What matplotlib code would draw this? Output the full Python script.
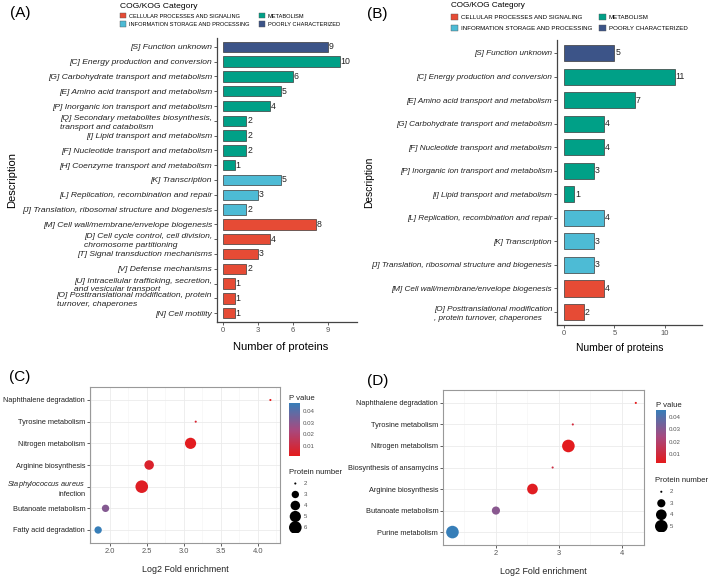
import numpy as np
import matplotlib.pyplot as plt
from matplotlib.colors import LinearSegmentedColormap
from matplotlib.patches import Patch

plt.rcParams['font.family'] = 'Liberation Sans'
plt.rcParams['mathtext.fontset'] = 'custom'
plt.rcParams['mathtext.it'] = 'Liberation Sans:italic'
plt.rcParams['mathtext.rm'] = 'Liberation Sans'

W, H = 709, 576

CAT_NAMES = ["CELLULAR PROCESSES AND SIGNALING", "INFORMATION STORAGE AND PROCESSING",
             "METABOLISM", "POORLY CHARACTERIZED"]
CAT_COLORS = ["#E64B35", "#4DBBD5", "#00A087", "#3C5488"]

# panel A
a_terms = ["[S] Function unknown", "[C] Energy production and conversion",
           "[G] Carbohydrate transport and metabolism", "[E] Amino acid transport and metabolism",
           "[P] Inorganic ion transport and metabolism",
           "[Q] Secondary metabolites biosynthesis,\ntransport and catabolism",
           "[I] Lipid transport and metabolism", "[F] Nucleotide transport and metabolism",
           "[H] Coenzyme transport and metabolism", "[K] Transcription",
           "[L] Replication, recombination and repair",
           "[J] Translation, ribosomal structure and biogenesis",
           "[M] Cell wall/membrane/envelope biogenesis",
           "[D] Cell cycle control, cell division,\nchromosome partitioning",
           "[T] Signal transduction mechanisms", "[V] Defense mechanisms",
           "[U] Intracellular trafficking, secretion,\nand vesicular transport",
           "[O] Posttranslational modification, protein\nturnover, chaperones",
           "[N] Cell motility"]
a_counts = [9, 10, 6, 5, 4, 2, 2, 2, 1, 5, 3, 2, 8, 4, 3, 2, 1, 1, 1]
a_cats = [3, 2, 2, 2, 2, 2, 2, 2, 2, 1, 1, 1, 0, 0, 0, 0, 0, 0, 0]

# panel B
b_terms = ["[S] Function unknown", "[C] Energy production and conversion",
           "[E] Amino acid transport and metabolism", "[G] Carbohydrate transport and metabolism",
           "[F] Nucleotide transport and metabolism", "[P] Inorganic ion transport and metabolism",
           "[I] Lipid transport and metabolism", "[L] Replication, recombination and repair",
           "[K] Transcription", "[J] Translation, ribosomal structure and biogenesis",
           "[M] Cell wall/membrane/envelope biogenesis",
           "[O] Posttranslational modification\n, protein turnover, chaperones"]
b_counts = [5, 11, 7, 4, 4, 3, 1, 4, 3, 3, 4, 2]
b_cats = [3, 2, 2, 2, 2, 2, 2, 1, 1, 1, 0, 0]

# panel C
c_paths = ["Naphthalene degradation", "Tyrosine metabolism", "Nitrogen metabolism",
           "Arginine biosynthesis", "$\\it{Staphylococcus\\ aureus}$ \ninfection",
           "Butanoate metabolism", "Fatty acid degradation"]
c_fold = [4.17, 3.16, 3.09, 2.53, 2.43, 1.94, 1.84]
c_count = [2, 2, 5, 4, 6, 3, 3]
c_pval = [0.0011, 0.006, 0.002, 0.005, 0.003, 0.031, 0.047]

# panel D
d_paths = ["Naphthalene degradation", "Tyrosine metabolism", "Nitrogen metabolism",
           "Biosynthesis of ansamycins", "Arginine biosynthesis", "Butanoate metabolism",
           "Purine metabolism"]
d_fold = [4.22, 3.22, 3.15, 2.90, 2.58, 2.00, 1.31]
d_count = [2, 2, 5, 2, 4, 3, 5]
d_pval = [0.0025, 0.009, 0.003, 0.011, 0.004, 0.030, 0.046]

pcmap = LinearSegmentedColormap.from_list("pv", ["#E41A1C", "#A64A80", "#377EB8"])


def rect(x0, y0, x1, y1):
    # pixel box -> figure fraction
    return [x0 / W, 1 - y1 / H, (x1 - x0) / W, (y1 - y0) / H]


def bar_panel(box, terms, counts, cats, xlim, xticks, lab_fs, ylim_pad, bar_h):
    ax = fig.add_axes(rect(*box))
    y = np.arange(len(terms))
    ax.barh(y, counts, height=bar_h, color=[CAT_COLORS[c] for c in cats],
            edgecolor='#3a3a3a', linewidth=0.5)
    for yi, v in zip(y, counts):
        ax.text(v + 0.08, yi, str(v), va='center', ha='left', fontsize=6.3, color='#222222')
    ax.set_yticks(y, terms, fontstyle='italic', fontsize=lab_fs, color='#222222',
                  multialignment='left', linespacing=1.35)
    ax.set_xticks(xticks, [str(t) for t in xticks], fontsize=5.5, color='#555555')
    ax.set_xlim(*xlim)
    ax.set_ylim(len(terms) - 1 + ylim_pad, -ylim_pad)
    for s in ['top', 'right']:
        ax.spines[s].set_visible(False)
    for s in ['left', 'bottom']:
        ax.spines[s].set_color('#444444')
        ax.spines[s].set_linewidth(0.9)
    ax.tick_params(length=2, width=0.6, color='#444444', pad=1.5)
    return ax


def cog_legend(x, y, fs, tfs, lspace, cspace):
    handles = [Patch(facecolor=c, edgecolor='#555555', linewidth=0.3, label=n)
               for n, c in zip(CAT_NAMES, CAT_COLORS)]
    fig.legend(handles=handles, ncol=2, loc='upper left', bbox_to_anchor=(x / W, 1 - y / H),
               frameon=False, title='COG/KOG Category', fontsize=fs, title_fontsize=tfs,
               alignment='left', borderpad=0, borderaxespad=0, handlelength=1.1,
               handleheight=1.1, handletextpad=0.5, columnspacing=cspace, labelspacing=lspace)


def size_px(v, vmin, vmax):
    return 2.1 * (1 + 5 * np.sqrt((np.asarray(v) - vmin) / (vmax - vmin)))


def dot_panel(box, paths, fold, count, pval, xlim, xticks, xlabels, cbox, lx, ltop, lgap):
    ax = fig.add_axes(rect(*box))
    vmin, vmax = min(count), max(count)
    y = np.arange(len(paths))
    sizes = (size_px(count, vmin, vmax) * 0.72) ** 2
    sc = ax.scatter(fold, y, s=sizes, c=pval, cmap=pcmap, vmin=min(pval), vmax=max(pval),
                    linewidths=0, zorder=3)
    ax.set_yticks(y, paths, fontsize=5.3, color='#222222', linespacing=1.3)
    ax.set_xticks(xticks, xlabels, fontsize=5.4, color='#555555')
    step = xticks[1] - xticks[0]
    minor = [xticks[0] - step / 2] + [t + step / 2 for t in xticks]
    ax.set_xticks(minor, minor=True)
    ax.set_xlim(*xlim)
    ax.set_ylim(len(paths) - 0.4, -0.6)
    ax.grid(True, which='major', color='#EBEBEB', linewidth=0.6, zorder=0)
    ax.grid(True, which='minor', axis='x', color='#F3F3F3', linewidth=0.4, zorder=0)
    ax.set_axisbelow(True)
    for s in ax.spines.values():
        s.set_color('#999999')
        s.set_linewidth(0.8)
    ax.tick_params(which='major', length=2, width=0.6, color='#444444', pad=1.5)
    ax.tick_params(which='minor', length=0)
    ax.set_xlabel('Log2 Fold enrichment', fontsize=6.4, color='#222222', labelpad=7)

    cax = fig.add_axes(rect(*cbox))
    cb = fig.colorbar(sc, cax=cax, ticks=[0.01, 0.02, 0.03, 0.04])
    cb.outline.set_visible(False)
    cb.ax.set_yticklabels(['0.01', '0.02', '0.03', '0.04'], fontsize=4.4, color='#555555')
    cb.ax.tick_params(length=0, pad=2)
    cax.set_title('P value', fontsize=5.6, loc='left', pad=2, color='#222222')

    # size legend
    fig.text(lx / W, 1 - ltop / H, 'Protein number', fontsize=5.6, color='#222222', va='center')
    lax = fig.add_axes(rect(lx, ltop + 5, lx + 30, ltop + 5 + lgap * (vmax - vmin + 1)))
    lax.set_axis_off()
    levels = np.arange(vmin, vmax + 1)
    lax.scatter(np.zeros(len(levels)), levels, s=(size_px(levels, vmin, vmax) * 0.72) ** 2,
                color='black', linewidths=0)
    for lv in levels:
        lax.text(1.1, lv, str(lv), fontsize=4.4, color='#555555', va='center')
    lax.set_xlim(-0.8, 3)
    lax.set_ylim(vmax + 0.5, vmin - 0.5)
    return ax


fig = plt.figure(figsize=(W / 100, H / 100), dpi=100)

axA = bar_panel((217, 38, 357, 322), a_terms, a_counts, a_cats, (-0.5, 11.5), [0, 3, 6, 9],
                6.1, 0.6, 0.7)
axB = bar_panel((557, 40, 702, 325), b_terms, b_counts, b_cats, (-0.7, 13.7), [0, 5, 10],
                5.9, 0.55, 0.68)
cog_legend(120, 3, 4.1, 6.1, 0.5, 1.6)
cog_legend(451, 2, 4.4, 5.9, 0.85, 1.1)

fig.text(12 / W, 1 - 180 / H, 'Description', rotation=90, fontsize=8, ha='center', va='center')
fig.text(369 / W, 1 - 182 / H, 'Description', rotation=90, fontsize=7.4, ha='center', va='center')
fig.text(281 / W, 1 - 347 / H, 'Number of proteins', fontsize=8, ha='center', va='center')
fig.text(620 / W, 1 - 348 / H, 'Number of proteins', fontsize=7.4, ha='center', va='center')

dot_panel((90, 387, 280, 543), c_paths, c_fold, c_count, c_pval, (1.73, 4.3),
          [2.0, 2.5, 3.0, 3.5, 4.0], ['2.0', '2.5', '3.0', '3.5', '4.0'],
          (289, 403, 300, 456), 289, 473, 11)
dot_panel((443, 390, 644, 545), d_paths, d_fold, d_count, d_pval, (1.16, 4.35),
          [2, 3, 4], ['2', '3', '4'],
          (656, 410, 666, 463), 655, 481, 11.5)

for lab, x, y in [('(A)', 20, 13), ('(B)', 377, 14), ('(C)', 20, 377), ('(D)', 378, 381)]:
    fig.text(x / W, 1 - y / H, lab, fontsize=11, ha='center', va='center')

fig.savefig('out.png', dpi=100)
